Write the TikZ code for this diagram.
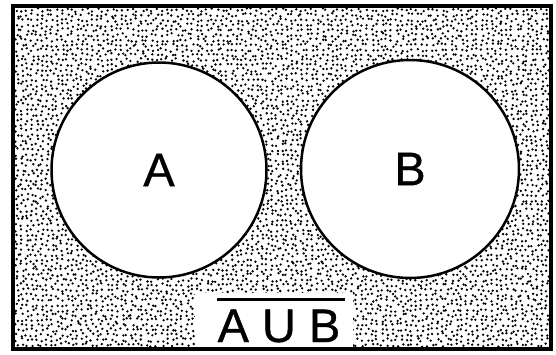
\documentclass[tikz,border=0pt]{standalone}
\usepackage{fontspec}
\setmainfont{Liberation Sans}
\newfontfamily\letterfont[FakeBold=0.8]{Liberation Sans}
\begin{document}
\begin{tikzpicture}[x=1pt,y=-1pt,
  setcirc/.style={circle,draw=black,line width=2.5pt,fill=white,inner sep=0pt,font=\letterfont\fontsize{47}{50}\selectfont},
  lettertext/.style={font=\letterfont\fontsize{47}{50}\selectfont,inner sep=0pt},
  frameline/.style={draw=black,line width=3.5pt}]
\useasboundingbox (0,0) rectangle (556,354);
\fill[white] (0,0) rectangle (556,354);
% stippled universe
\pgfmathsetseed{7}
\begin{scope}
\clip (13,6) rectangle (551,349);
\foreach \i in {0,...,108} {
  \fill[black] foreach \j in {0,...,69} { ({12+5*\i+1.8*rand},{5+5*\j+1.8*rand}) circle (1.3) };
}
\end{scope}
\draw[frameline] (13,6) rectangle (551,349);
% sets
\node[setcirc,minimum size=215] (A) at (159,170) {A};
\node[setcirc,minimum size=218] (B) at (410,169) {B};
% complement label
\fill[white] (195,293) rectangle (353,347.2);
\node[lettertext,anchor=base] (L) at (279,342) {A U B};
\coordinate (ol1) at (217,299);
\coordinate (ol2) at (345,299);
\draw[line width=3pt] (ol1) -- (ol2);
\end{tikzpicture}
\end{document}
